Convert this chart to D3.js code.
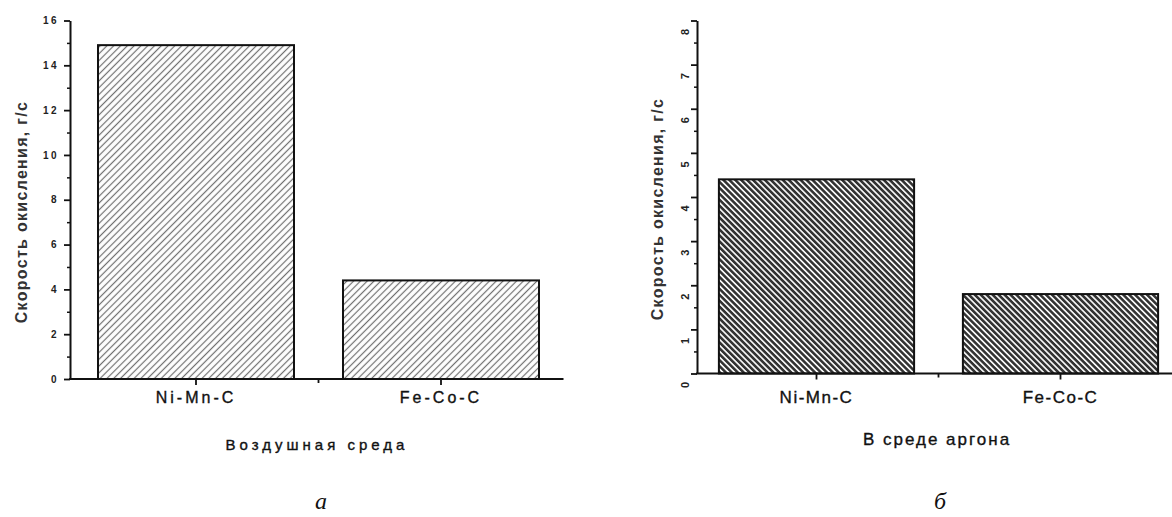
<!DOCTYPE html>
<html>
<head>
<meta charset="utf-8">
<script src="https://cdn.jsdelivr.net/npm/d3@7"></script>
<style>
  body { margin: 0; background: #fff; }
  svg { display: block; }
  .axis path, .axis line { stroke: #111; }
  .axis text { fill: #222; font-family: "Liberation Sans", Arial, sans-serif; }
</style>
</head>
<body>
<svg id="chart" width="1172" height="517"></svg>
<script>
var categories = ["Ni-Mn-C", "Fe-Co-C"];
var airRates = [14.9, 4.4];
var argonRates = [4.4, 1.8];
var airTicks = [0, 2, 4, 6, 8, 10, 12, 14, 16];
var argonTicks = [0, 1, 2, 3, 4, 5, 6, 7, 8];
var yTitle = "Скорость окисления, г/с";
var airTitle = "Воздушная среда";
var argonTitle = "В среде аргона";
var panelLetters = ["а", "б"];

var svg = d3.select("#chart");
var defs = svg.append("defs");

// hatch fills: light "////" on the left, dense dark "\\\\" on the right
function hatch(id, angle, size, width, color) {
  var p = defs.append("pattern")
    .attr("id", id)
    .attr("patternUnits", "userSpaceOnUse")
    .attr("width", size).attr("height", size)
    .attr("patternTransform", "rotate(" + angle + ")");
  p.append("rect").attr("width", size).attr("height", size).attr("fill", "#fff");
  p.append("line")
    .attr("x1", size / 2).attr("y1", 0)
    .attr("x2", size / 2).attr("y2", size)
    .attr("stroke", color).attr("stroke-width", width);
}
hatch("hatchAir", 45, 4.8, 1.2, "#707070");
hatch("hatchArgon", -45, 4.2, 2.6, "#333");

function drawPanel(cfg) {
  var g = svg.append("g");

  var x = d3.scaleBand()
    .domain(categories)
    .range(cfg.xRange)
    .paddingInner(0.2)
    .paddingOuter(0.1);

  var y = d3.scaleLinear()
    .domain([0, cfg.yMax])
    .range([cfg.y0, cfg.y1]);

  // bars
  g.selectAll(".bar")
    .data(cfg.values)
    .enter().append("rect")
    .attr("class", "bar")
    .attr("x", function(d, i) { return x(categories[i]); })
    .attr("width", x.bandwidth())
    .attr("y", function(d) { return y(d); })
    .attr("height", function(d) { return y(0) - y(d); })
    .style("fill", "url(#" + cfg.pattern + ")")
    .style("stroke", "#111")
    .style("stroke-width", 2);

  // y axis, major ticks with labels
  var yAxis = g.append("g")
    .attr("class", "axis")
    .attr("transform", "translate(" + cfg.xAxisLeft + ",0)")
    .call(d3.axisLeft(y).tickValues(cfg.ticks).tickSize(6).tickSizeOuter(0).tickPadding(5));
  yAxis.select(".domain").style("stroke-width", 2);
  yAxis.selectAll(".tick line").style("stroke-width", 1.8);
  yAxis.selectAll("text")
    .style("font-size", cfg.tickFont + "px")
    .style("font-weight", "bold");
  if (cfg.rotateTicks) {
    yAxis.selectAll("text")
      .attr("text-anchor", "middle")
      .attr("dy", "0")
      .attr("transform", "translate(-8,0) rotate(-90)");
  } else {
    yAxis.selectAll("text").style("letter-spacing", "2.5px");
  }

  // minor ticks halfway between labelled ones
  var step = cfg.ticks[1] - cfg.ticks[0];
  var minors = cfg.ticks.slice(0, -1).map(function(t) { return t + step / 2; });
  g.append("g")
    .attr("class", "axis")
    .attr("transform", "translate(" + cfg.xAxisLeft + ",0)")
    .call(d3.axisLeft(y).tickValues(minors).tickSize(3).tickFormat(""))
    .call(function(a) { a.select(".domain").remove(); })
    .selectAll(".tick line").style("stroke-width", 1.5);

  // x axis line
  g.append("line")
    .attr("x1", cfg.xAxisLeft - 1).attr("x2", cfg.xRange[1])
    .attr("y1", y(0)).attr("y2", y(0))
    .style("stroke", "#111").style("stroke-width", 2);

  var xAxis = g.append("g")
    .attr("class", "axis")
    .attr("transform", "translate(0," + y(0) + ")")
    .call(d3.axisBottom(x).tickSize(6).tickSizeOuter(0).tickPadding(cfg.labelPad));
  xAxis.select(".domain").remove();
  xAxis.selectAll(".tick line").style("stroke-width", 1.8);
  xAxis.selectAll("text")
    .style("font-size", cfg.labelFont + "px")
    .style("fill", "#111")
    .style("stroke", "#111")
    .style("stroke-width", 0.35)
    .style("letter-spacing", cfg.labelSpacing + "px");

  // tick between the two categories
  var mid = (x(categories[0]) + x.bandwidth() + x(categories[1])) / 2;
  g.append("line")
    .attr("x1", mid).attr("x2", mid)
    .attr("y1", y(0)).attr("y2", y(0) + 4)
    .style("stroke", "#111").style("stroke-width", 1.8);

  // axis titles
  g.append("text")
    .attr("transform", "translate(" + cfg.yTitleX + "," + cfg.yTitleY + ") rotate(-90)")
    .attr("text-anchor", "middle")
    .style("font-family", "Liberation Sans, Arial, sans-serif")
    .style("font-size", "16px")
    .style("font-weight", "bold")
    .style("letter-spacing", "1.3px")
    .style("fill", "#333")
    .text(yTitle);

  g.append("text")
    .attr("x", cfg.xTitleX).attr("y", cfg.xTitleY)
    .attr("text-anchor", "middle")
    .style("font-family", "Liberation Sans, Arial, sans-serif")
    .style("font-size", cfg.titleFont + "px")
    .style("letter-spacing", cfg.titleSpacing + "px")
    .style("fill", "#111")
    .style("stroke", "#111")
    .style("stroke-width", 0.35)
    .text(cfg.xTitle);

  g.append("text")
    .attr("x", cfg.letterX).attr("y", 509)
    .attr("text-anchor", "middle")
    .style("font-family", "Liberation Serif, Times New Roman, serif")
    .style("font-style", "italic")
    .style("font-size", "24px")
    .style("fill", "#111")
    .text(cfg.letter);
}

drawPanel({
  values: airRates, ticks: airTicks, yMax: 16,
  xRange: [73.5, 563.5], y0: 379, y1: 20.5, xAxisLeft: 70,
  pattern: "hatchAir", rotateTicks: false, tickFont: 10,
  labelFont: 16, labelSpacing: 3, labelPad: 7,
  yTitleX: 27, yTitleY: 212,
  xTitle: airTitle, xTitleX: 317, xTitleY: 450, titleFont: 15, titleSpacing: 4,
  letter: panelLetters[0], letterX: 321
});

drawPanel({
  values: argonRates, ticks: argonTicks, yMax: 8,
  xRange: [694.5, 1182.5], y0: 373.5, y1: 20.5, xAxisLeft: 697,
  pattern: "hatchArgon", rotateTicks: true, tickFont: 11,
  labelFont: 17, labelSpacing: 1.5, labelPad: 11,
  yTitleX: 663, yTitleY: 209,
  xTitle: argonTitle, xTitleX: 937, xTitleY: 445, titleFont: 17, titleSpacing: 2,
  letter: panelLetters[1], letterX: 940
});
</script>
</body>
</html>
